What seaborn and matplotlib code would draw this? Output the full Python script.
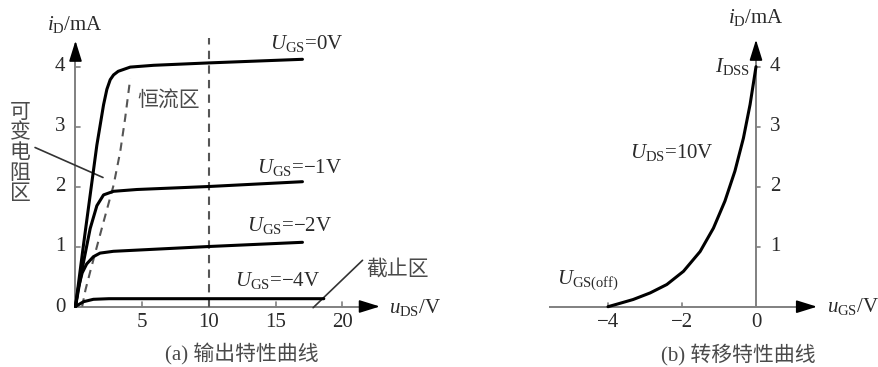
import matplotlib
matplotlib.use("Agg")
import matplotlib.pyplot as plt
import seaborn as sns

# ---- output characteristics (drain current vs drain-source voltage) ----
UDS_0 = [0, 0.6, 1.1, 1.6, 2.1, 2.35, 2.6, 2.85, 3.2, 4.1, 5.85, 10, 17]
ID_0 = [0, 1.03, 1.86, 2.69, 3.36, 3.62, 3.78, 3.86, 3.92, 3.99, 4.02, 4.06, 4.12]
UDS_1 = [0, 0.3, 0.6, 1.1, 1.6, 2.1, 2.85, 4.6, 10, 17]
ID_1 = [0, 0.38, 0.74, 1.3, 1.68, 1.86, 1.92, 1.95, 2.0, 2.08]
UDS_2 = [0, 0.2, 0.5, 0.84, 1.34, 1.84, 2.84, 10, 17]
ID_2 = [0, 0.3, 0.56, 0.71, 0.83, 0.89, 0.92, 1.0, 1.07]
UDS_4 = [0, 0.6, 1.34, 2.5, 10, 18.6]
ID_4 = [0, 0.08, 0.12, 0.13, 0.13, 0.13]
# boundary between variable-resistance and constant-current regions
UDS_B = [0.5, 0.75, 1.1, 2.1, 2.85, 3.35, 3.72, 4.1]
ID_B = [0, 0.28, 0.58, 1.41, 2.02, 2.58, 3.14, 3.8]
UDS_FIX = 10
GATE_LABELS = ["0V", "\u22121V", "\u22122V", "\u22124V"]
XTICKS_A = [5, 10, 15, 20]
YTICKS = [1, 2, 3, 4]

# ---- transfer characteristic (drain current vs gate-source voltage) ----
UGS_T = [-4.0, -3.77, -3.32, -2.86, -2.41, -1.96, -1.51, -1.15, -0.84, -0.57, -0.34, -0.16, 0]
ID_T = [0, 0.04, 0.12, 0.23, 0.37, 0.59, 0.92, 1.31, 1.76, 2.26, 2.81, 3.37, 4.0]
XTICKS_B = [-4, -2, 0]

sns.set_theme(style="white")
plt.rcParams["font.family"] = ["Liberation Serif", "Noto Sans CJK SC", "DejaVu Sans"]
plt.rcParams["mathtext.fontset"] = "custom"
plt.rcParams["mathtext.rm"] = "Liberation Serif"
plt.rcParams["mathtext.it"] = "Liberation Serif:italic"

TXT = "#2a2a2a"
CJK = "#4a4a4a"
AXC = "#808080"
FS = 15
CJK_FAM = ["Noto Sans CJK SC", "DejaVu Sans"]
CAP_FAM = ["Liberation Serif", "Noto Sans CJK SC"]

fig = plt.figure(figsize=(8.79, 3.67), dpi=100)
W, H = 879, 367
axL = fig.add_axes([0, 0, 450 / W, 1])
axR = fig.add_axes([450 / W, 0, 429 / W, 1])

# pixel-consistent data scales
sxL, ox, oyL, sy = 13.35, 75.5, 306.5, 60.0
axL.set_xlim(-ox / sxL, (450 - ox) / sxL)
axL.set_ylim((oyL - H) / sy, oyL / sy)
sxR, oxR, oyR = 37.0, 756 - 450, 306.7
axR.set_xlim(-oxR / sxR, (429 - oxR) / sxR)
axR.set_ylim((oyR - H) / sy, oyR / sy)
for ax in (axL, axR):
    ax.set_axis_off()


def draw_axes(ax, x0, x1, ytop):
    ax.plot([x0, x1 - 0.02 * (x1 - x0)], [0, 0], color=AXC, lw=1.4, solid_capstyle="butt", zorder=1)
    ax.plot([0, 0], [0, ytop - 0.2], color=AXC, lw=1.4, solid_capstyle="butt", zorder=1)
    style = "-|>,head_length=0.9,head_width=0.28"
    ax.annotate("", xy=(x1, 0), xytext=(x1 - 0.06 * (x1 - x0), 0),
                arrowprops=dict(arrowstyle=style, color="black", lw=1.2, mutation_scale=14,
                                shrinkA=0, shrinkB=0))
    ax.annotate("", xy=(0, ytop), xytext=(0, ytop - 0.3),
                arrowprops=dict(arrowstyle=style, color="black", lw=1.2, mutation_scale=14,
                                shrinkA=0, shrinkB=0))


curve_kw = dict(color="black", lw=2.2, estimator=None, sort=False, zorder=3,
                solid_joinstyle="round", solid_capstyle="round")

# ================= (a) output characteristics =================
draw_axes(axL, 0, 22.8, 4.43)
for xt in XTICKS_A:
    axL.plot([xt, xt], [0, 0.07], color=AXC, lw=1.2)
    axL.text(xt, -0.27, str(xt), ha="center", va="center", fontsize=FS, color=TXT)
for yt in YTICKS:
    axL.plot([0, 0.3], [yt, yt], color=AXC, lw=1.2)
    axL.text(-1.16, yt, str(yt), ha="center", va="center", fontsize=FS, color=TXT)
axL.text(-1.16, -0.02, "0", ha="center", va="center", fontsize=FS, color=TXT)

for xs, ys in [(UDS_0, ID_0), (UDS_1, ID_1), (UDS_2, ID_2), (UDS_4, ID_4)]:
    sns.lineplot(x=xs, y=ys, ax=axL, **curve_kw)
sns.lineplot(x=UDS_B, y=ID_B, ax=axL, color="#555555", lw=1.5, estimator=None, sort=False,
             linestyle=(0, (4, 3)), zorder=2)
axL.vlines(UDS_FIX, 0, 4.48, colors="#555555", lw=1.5, linestyles=[(0, (4, 3))], zorder=2)

label_pos = [(14.57, 4.38), (13.6, 2.32), (12.85, 1.35), (11.95, 0.43)]
for (lx, ly), g in zip(label_pos, GATE_LABELS):
    axL.text(lx, ly, r"$U_{\rm GS}$=" + g, ha="left", va="center", fontsize=FS, color=TXT)

axL.text(-0.07, 4.7, r"$i_{\rm D}$/mA", ha="center", va="center", fontsize=FS, color=TXT)
axL.text(23.5, -0.02, r"$u_{\rm DS}$/V", ha="left", va="center", fontsize=FS, color=TXT)
axL.text(4.6, 3.43, "恒流区", ha="left", va="center", fontsize=FS, color=CJK, family=CJK_FAM)
axL.text(-4.16, 2.57, "\n".join("可变电阻区"), ha="center", va="center", fontsize=FS,
         color=CJK, family=CJK_FAM, linespacing=0.9)
axL.plot([-3.03, 2.06], [2.65, 2.15], color="#333333", lw=1.2)
axL.text(21.8, 0.63, "截止区", ha="left", va="center", fontsize=FS, color=CJK, family=CJK_FAM)
axL.plot([17.8, 21.5], [-0.02, 0.77], color="#333333", lw=1.2)
axL.text(12.46, -0.8, "(a) 输出特性曲线", ha="center", va="center", fontsize=FS,
         color=CJK, family=CAP_FAM)

# ================= (b) transfer characteristic =================
draw_axes(axR, -5.6, 1.65, 4.45)
for xt in XTICKS_B:
    if xt != 0:
        axR.plot([xt, xt], [0, 0.07], color=AXC, lw=1.2)
    axR.text(xt, -0.27, str(xt).replace("-", "\u2212"), ha="center", va="center",
             fontsize=FS, color=TXT)
for yt in YTICKS:
    axR.plot([0, 0.12], [yt, yt], color=AXC, lw=1.2)
    axR.text(0.51, yt, str(yt), ha="center", va="center", fontsize=FS, color=TXT)

sns.lineplot(x=UGS_T, y=ID_T, ax=axR, **curve_kw)

axR.text(0, 4.82, r"$i_{\rm D}$/mA", ha="center", va="center", fontsize=FS, color=TXT)
axR.text(-0.16, 4.0, r"$I_{\rm DSS}$", ha="right", va="center", fontsize=FS, color=TXT)
axR.text(-3.4, 2.57, r"$U_{\rm DS}$=10V", ha="left", va="center", fontsize=FS, color=TXT)
axR.text(-5.38, 0.45, r"$U_{\rm GS(off)}$", ha="left", va="center", fontsize=FS, color=TXT)
axR.text(1.92, 0.0, r"$u_{\rm GS}$/V", ha="left", va="center", fontsize=FS, color=TXT)
axR.text(-0.49, -0.82, "(b) 转移特性曲线", ha="center", va="center", fontsize=FS,
         color=CJK, family=CAP_FAM)

fig.savefig("out.png", dpi=100)
